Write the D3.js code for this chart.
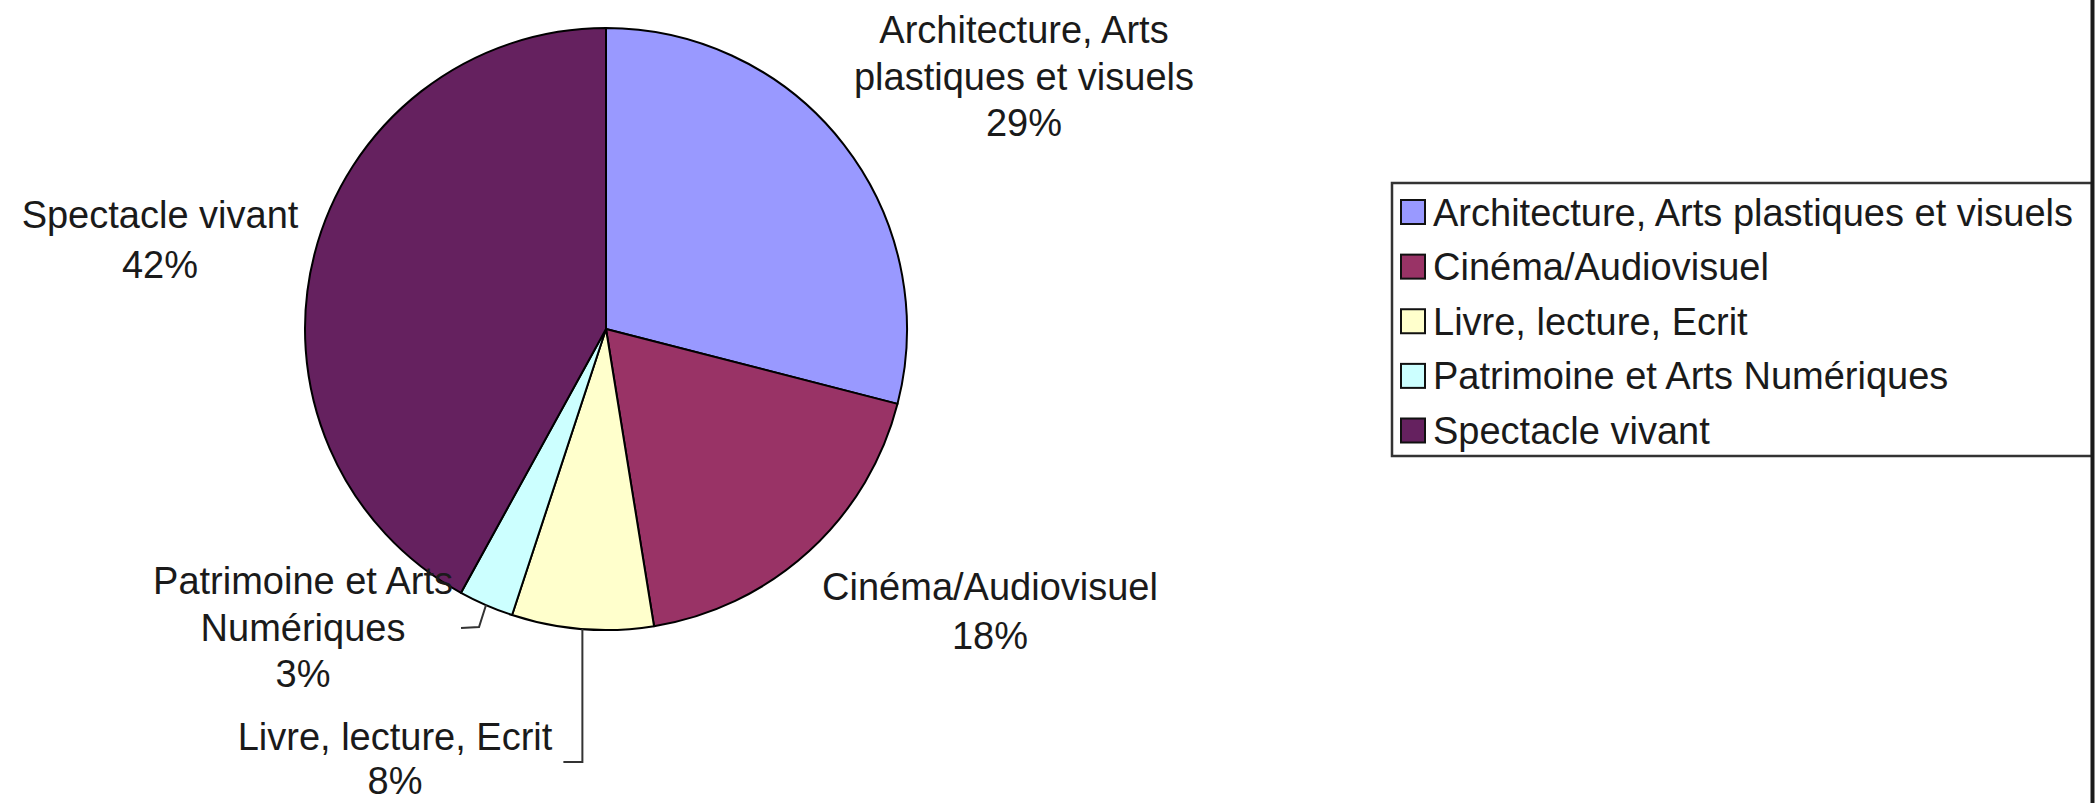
<!DOCTYPE html>
<html>
<head>
<meta charset="utf-8">
<script src="https://cdn.jsdelivr.net/npm/d3@7"></script>
<style>
  html, body { margin: 0; padding: 0; background: #fff; }
  svg { display: block; }
  text { font-family: "Liberation Sans", Arial, sans-serif; fill: #1a1a1a; }
</style>
</head>
<body>
<svg id="chart" width="2097" height="803"></svg>
<script>
// ---- data ----
const categories = [
  "Architecture, Arts plastiques et visuels",
  "Cinéma/Audiovisuel",
  "Livre, lecture, Ecrit",
  "Patrimoine et Arts Numériques",
  "Spectacle vivant"
];
const values = [29.0, 18.45, 7.6, 2.95, 42.0];
const colors = ["#9999FF", "#993366", "#FFFFCC", "#CCFFFF", "#65215F"];
const labelLines = [
  ["Architecture, Arts", "plastiques et visuels"],
  ["Cinéma/Audiovisuel"],
  ["Livre, lecture, Ecrit"],
  ["Patrimoine et Arts", "Numériques"],
  ["Spectacle vivant"]
];

// ---- layout ----
const W = 2097, H = 803;
const cx = 606, cy = 329, R = 301;
const fontSize = 38;
// label anchors: centre x, first baseline y, line step
const labelLayout = [
  {x: 1024, y: 43, step: 46.5},
  {x: 990, y: 600, step: 49},
  {x: 395, y: 750, step: 44},
  {x: 303, y: 594, step: 46.5},
  {x: 160, y: 228, step: 49.5}
];

const svg = d3.select("#chart");
const total = d3.sum(values);
const data = categories.map((c, i) => ({name: c, value: values[i], color: colors[i], lines: labelLines[i]}));

const pie = d3.pie().value(d => d.value).sort(null).startAngle(0).endAngle(2 * Math.PI);
const arcs = pie(data);
const arc = d3.arc().innerRadius(0).outerRadius(R);

const g = svg.append("g").attr("transform", `translate(${cx},${cy})`);
g.selectAll("path.slice").data(arcs).join("path")
  .attr("class", "slice")
  .attr("d", arc)
  .attr("fill", d => d.data.color)
  .attr("stroke", "#000")
  .attr("stroke-width", 2)
  .attr("stroke-linejoin", "round");

// labels
const pct = d => Math.round(d.value / total * 100) + "%";
data.forEach((d, i) => {
  const L = labelLayout[i];
  const t = svg.append("text")
    .attr("text-anchor", "middle")
    .attr("font-size", fontSize);
  const lines = d.lines.concat([pct(d)]);
  lines.forEach((ln, k) => {
    t.append("tspan").attr("x", L.x).attr("y", L.y + k * L.step).text(ln);
  });
});

// leader lines
function outerPoint(a, r) {
  const m = (a.startAngle + a.endAngle) / 2;
  return [cx + Math.sin(m) * r, cy - Math.cos(m) * r];
}
const lineGen = d3.line();
// Livre
{
  const p = outerPoint(arcs[2], R);
  svg.append("path")
    .attr("d", lineGen([p, [p[0], 762], [p[0] - 19, 762]]))
    .attr("fill", "none").attr("stroke", "#333").attr("stroke-width", 2);
}
// Patrimoine
{
  const p = outerPoint(arcs[3], R);
  svg.append("path")
    .attr("d", lineGen([p, [p[0] - 7, 627], [p[0] - 25, 628]]))
    .attr("fill", "none").attr("stroke", "#333").attr("stroke-width", 2);
}

// legend
const lg = svg.append("g");
const lx = 1392, ly = 183, lw = 700, lh = 273;
lg.append("rect")
  .attr("x", lx).attr("y", ly).attr("width", lw).attr("height", lh)
  .attr("fill", "#fff").attr("stroke", "#333").attr("stroke-width", 2.5);
const rowY = d3.scalePoint().domain(categories).range([212, 430.5]);
const items = lg.selectAll("g.item").data(data).join("g").attr("class", "item")
  .attr("transform", d => `translate(0,${rowY(d.name)})`);
items.append("rect")
  .attr("x", 1401).attr("y", -12).attr("width", 24).attr("height", 24)
  .attr("fill", d => d.color).attr("stroke", "#111").attr("stroke-width", 2);
items.append("text")
  .attr("x", 1433).attr("y", 13.5)
  .attr("font-size", fontSize)
  .text(d => d.name);

// right border line
svg.append("line")
  .attr("x1", 2092.5).attr("x2", 2092.5).attr("y1", 0).attr("y2", H)
  .attr("stroke", "#1a1a1a").attr("stroke-width", 4);
</script>
</body>
</html>
